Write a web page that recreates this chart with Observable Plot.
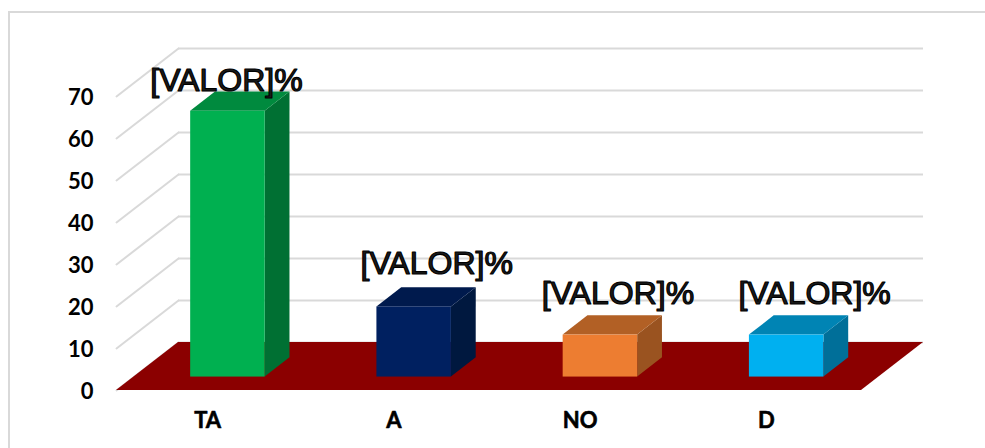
<!DOCTYPE html>
<html>
<head>
<meta charset="utf-8">
<script src="https://cdn.jsdelivr.net/npm/d3@7"></script>
<script src="https://cdn.jsdelivr.net/npm/@observablehq/plot@0.6"></script>
<style>
  html, body { margin: 0; padding: 0; background: #fff; overflow: hidden; }
  #wrap { position: relative; width: 985px; height: 448px; }
  #edge { position: absolute; left: 8px; top: 11px; right: 0; bottom: 0; border-left: 2px solid #d9d9d9; border-top: 2px solid #d9d9d9; }
  #chart { position: absolute; left: 0; top: 0; }
  #chart svg { display: block; background: transparent; }
</style>
</head>
<body>
<div id="wrap"><div id="edge"></div><div id="chart"></div></div>
<script>
const categories = ["TA", "A", "NO", "D"];
const values = [63.3, 16.7, 10, 10];
const labelText = "[VALOR]%";
const yTicks = [0, 10, 20, 30, 40, 50, 60, 70];
const frontColors = ["#00B050", "#002060", "#ED7D31", "#00B0F0"];
const topColors = ["#008A3E", "#001A4D", "#B26025", "#0084B4"];
const sideColors = ["#007033", "#00183F", "#9A5320", "#006F99"];

// Oblique projection of the 3D box, expressed in scale units
const depthX = 0.333, depthY = 11.43;
const barWidth = 0.4, depthFront = 0.28, depthBack = 0.68;
const labelShift = [[-1.5, -30], [22.5, -43], [17.5, -41], [28, -41]];
const px = (i, side, depth) => i + 0.505 + side * barWidth / 2 + depth * depthX;
const py = (v, depth) => v + depth * depthY;

const bars = values.flatMap((v, i) => {
  const fl = px(i, -1, depthFront), fr = px(i, 1, depthFront);
  const bl = px(i, -1, depthBack), br = px(i, 1, depthBack);
  const y0f = py(0, depthFront), y1f = py(v, depthFront);
  const y0b = py(0, depthBack), y1b = py(v, depthBack);
  return [
    Plot.areaY([{x: fr, a: y0f, b: y1f}, {x: br, a: y0b, b: y1b}],
      {x: "x", y1: "a", y2: "b", fill: sideColors[i]}),
    Plot.areaX([{y: y1f, a: fl, b: fr}, {y: y1b, a: bl, b: br}],
      {y: "y", x1: "a", x2: "b", fill: topColors[i]}),
    Plot.rect([{a: fl, b: fr, c: y0f, d: y1f}],
      {x1: "a", x2: "b", y1: "c", y2: "d", fill: frontColors[i]})
  ];
});

const labels = values.map((v, i) =>
  Plot.text([{x: px(i, 0, depthFront), y: py(v, depthFront)}], {
    x: "x", y: "y", text: () => labelText,
    dx: labelShift[i][0], dy: labelShift[i][1],
    fontFamily: "Liberation Sans", fontSize: 32,
    fill: "#1c1c1c", stroke: "#000", strokeWidth: 1.2, paintOrder: "fill",
    textAnchor: "middle", lineAnchor: "middle"
  })
);

const gridStroke = {stroke: "#d9d9d9", strokeWidth: 2};

const chart = Plot.plot({
  width: 985,
  height: 448,
  marginLeft: 116,
  marginRight: 62,
  marginTop: 48,
  marginBottom: 58,
  x: {domain: [0, categories.length + depthX], axis: null},
  y: {domain: [0, 81.43], axis: null},
  marks: [
    Plot.ruleY(yTicks, {y: d => d + depthY, x1: depthX, x2: categories.length + depthX, ...gridStroke}),
    ...yTicks.map(t => Plot.line([{x: 0, y: t}, {x: depthX, y: t + depthY}], {x: "x", y: "y", ...gridStroke})),
    Plot.areaX([{y: 0, a: 0, b: categories.length}, {y: depthY, a: depthX, b: categories.length + depthX}],
      {y: "y", x1: "a", x2: "b", fill: "#8B0000"}),
    ...bars,
    ...labels,
    Plot.axisY(yTicks, {
      anchor: "left", tickSize: 0, tickPadding: 23, label: null, dy: 1.5,
      fontFamily: "Lato", fontWeight: 700, fontSize: 22, fill: "#000",
      stroke: "#000", strokeWidth: 0.6, paintOrder: "fill"
    }),
    Plot.text(categories, {
      x: (d, i) => i + 0.5, y: 0, text: d => d, dx: -2, dy: 30,
      fontFamily: "Lato", fontWeight: 700, fontSize: 22, fill: "#000",
      stroke: "#000", strokeWidth: 0.6, paintOrder: "fill"
    })
  ]
});
document.getElementById("chart").append(chart);
</script>
</body>
</html>
